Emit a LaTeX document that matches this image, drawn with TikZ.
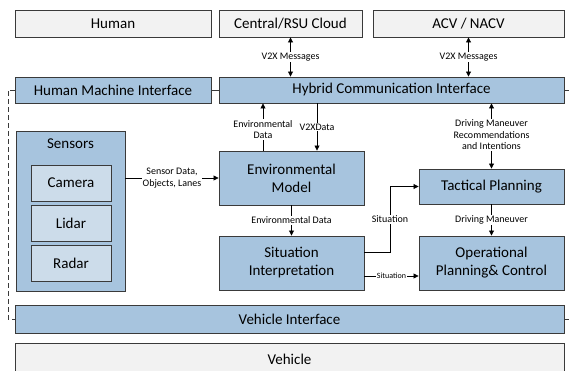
\documentclass[tikz,border=0pt]{standalone}
\usepackage{fontspec}
\setmainfont{Carlito}
\usetikzlibrary{arrows.meta}
\definecolor{bluebox}{HTML}{A7C4DE}
\definecolor{lightbox}{HTML}{CCDCEA}
\definecolor{graybox}{HTML}{F2F2F2}
\definecolor{edge}{HTML}{3A3A3A}
\begin{document}
\begin{tikzpicture}[x=1pt,y=-1pt,
  box/.style={draw=edge,line width=0.9pt,inner sep=0pt,font=\fontsize{15}{18}\selectfont,align=center},
  bluebox/.style={box,fill=bluebox},
  graybox/.style={box,fill=graybox},
  innerbox/.style={box,fill=lightbox},
  lbl/.style={fill=white,inner sep=1pt,font=\fontsize{10}{11.5}\selectfont,align=center},
  conn/.style={line width=0.8pt,-{Triangle[length=5pt,width=5pt]}},
  bconn/.style={line width=0.8pt,{Triangle[length=5pt,width=5pt]}-{Triangle[length=5pt,width=5pt]}},
  dashline/.style={line width=0.8pt,dash pattern=on 5pt off 3pt,draw=edge}]
\useasboundingbox (0,0) rectangle (569,371);
% top gray boxes
\node[graybox,minimum width=196,minimum height=27] (human) at (113,23.5) {Human};
\node[graybox,minimum width=143,minimum height=27] (cloud) at (290.5,23.5) {Central/RSU Cloud};
\node[graybox,minimum width=191,minimum height=27] (acv) at (468.5,23.5) {ACV / NACV};
% interface row
\node[bluebox,minimum width=196,minimum height=26] (hmi) at (113,90) {Human Machine Interface};
\node[bluebox,minimum width=345,minimum height=26] (hci) at (391.5,90) {Hybrid Communication Interface};
% sensors
\node[bluebox,minimum width=109,minimum height=160,label={[font=\fontsize{15}{18}\selectfont,anchor=north,yshift=-5pt]north:Sensors}] (sensors) at (70.5,211) {};
\node[innerbox,minimum width=80,minimum height=36] (camera) at (71,183) {Camera};
\node[innerbox,minimum width=80,minimum height=36] (lidar) at (71,223) {Lidar};
\node[innerbox,minimum width=80,minimum height=36] (radar) at (71,263) {Radar};
% central column
\node[bluebox,minimum width=145,minimum height=54] (env) at (291.5,178) {Environmental\\Model};
\node[bluebox,minimum width=145,minimum height=54] (sit) at (291.5,263) {Situation\\Interpretation};
% right column
\node[bluebox,minimum width=145,minimum height=35] (tac) at (491.5,186.5) {Tactical Planning};
\node[bluebox,minimum width=145,minimum height=54] (op) at (491.5,263) {Operational\\Planning\& Control};
% bottom
\node[bluebox,minimum width=549,minimum height=28] (vi) at (289.5,319) {Vehicle Interface};
\node[graybox,minimum width=549,minimum height=32,anchor=north] (veh) at (289.5,343) {Vehicle};
% V2X messages
\draw[bconn] (cloud.south) -- node[lbl] {V2X Messages} (hci.north -| cloud.south);
\draw[bconn] (acv.south) -- node[lbl] {V2X Messages} (hci.north -| acv.south);
% env data and v2x data
\coordinate (envA) at ([xshift=-28.5pt]env.north);
\coordinate (envB) at ([xshift=25.5pt]env.north);
\draw[conn] (envA) -- node[lbl,pos=0.45] {Environmental\\Data} (hci.south -| envA);
\draw[conn] (hci.south -| envB) -- node[lbl,pos=0.5] {V2XData} (envB);
% sensors to env
\draw[conn] (sensors.east |- env.west) -- node[lbl] {Sensor Data,\\Objects, Lanes} (env.west);
% env to sit
\draw[conn] (env.south) -- node[lbl] {Environmental Data} (sit.north);
% sit to tactical
\coordinate (s1) at ([yshift=11pt]sit.east);
\coordinate (bend) at (390,0);
\draw[conn] (s1) -- (bend |- s1) -- node[lbl] {Situation} (bend |- tac.west) -- (tac.west);
% sit to op
\coordinate (s2) at ([yshift=-13pt]sit.east);
\draw[conn] (s2) -- node[lbl,font=\fontsize{8}{9}\selectfont,inner sep=0.5pt] {Situation} (op.west |- s2);
% tactical <-> hci
\draw[bconn] (tac.north) -- node[lbl,pos=0.52] {Driving Maneuver\\Recommendations\\and Intentions} (hci.south -| tac.north);
% tactical to op
\draw[conn] (tac.south) -- node[lbl] {Driving Maneuver} (op.north);
% links
\draw[line width=0.8pt,draw=edge] (hmi.east) -- (hci.west);
\coordinate (dl) at (8,0);
\draw[dashline] (hmi.west) -- (dl |- hmi.west) -- (dl |- vi.west) -- (vi.west);
\coordinate (dr) at (569,0);
\draw[line width=0.8pt,draw=edge] (hci.east) -- (dr |- hci.east);
\draw[line width=0.8pt,draw=edge] (vi.east) -- (dr |- vi.east);
\end{tikzpicture}
\end{document}
